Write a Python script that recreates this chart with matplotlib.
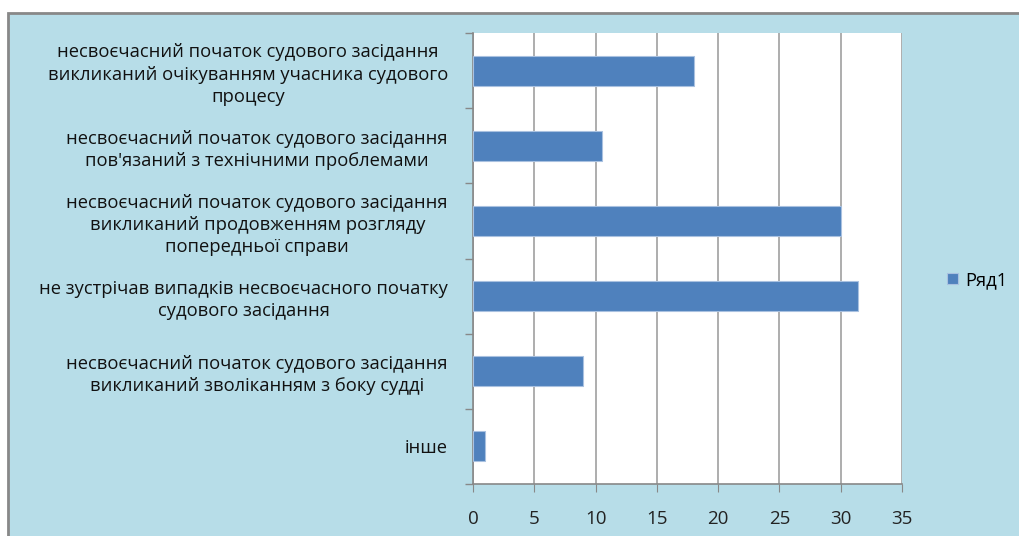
import numpy as np
import matplotlib.pyplot as plt
from matplotlib.patches import Rectangle

# categories from bottom to top
labels = [
    "інше",
    "несвоєчасний початок судового засідання\nвикликаний зволіканням з боку судді",
    "не зустрічав випадків несвоєчасного початку\nсудового засідання",
    "несвоєчасний початок судового засідання\nвикликаний продовженням розгляду\nпопередньої справи",
    "несвоєчасний початок судового засідання\nпов'язаний з технічними проблемами",
    "несвоєчасний початок судового засідання\nвикликаний очікуванням учасника судового\nпроцесу",
]
values = [1, 9, 31.4, 30, 10.5, 18]
xticks = [0, 5, 10, 15, 20, 25, 30, 35]
series_name = "Ряд1"

bg = '#b7dde8'
bar_col = '#4f81bd'

plt.rcParams['font.family'] = ['Open Sans', 'DejaVu Sans']

fig = plt.figure(figsize=(10.19, 5.36), dpi=100)
fig.patch.set_facecolor('white')
fig.patches.append(Rectangle((8/1019, -0.1), 1.2, 1.1 - 13/536, transform=fig.transFigure,
                             facecolor=bg, edgecolor='#888888', linewidth=2, zorder=-1))

ax = fig.add_axes([473/1019, 52/536, (902-473)/1019, (484-33)/536])
y = np.arange(len(labels))
ax.barh(y, values, height=0.4, color=bar_col, edgecolor='#a9c1e0', linewidth=0.8,
        label=series_name, zorder=3)

ax.set_xlim(0, 35)
ax.set_ylim(-0.5, len(labels) - 0.5)
ax.set_xticks(xticks)
ax.set_yticks(y)
ax.set_yticklabels(labels, fontsize=13.2, multialignment='center', linespacing=1.3, color='#111111')
ax.set_yticks(np.arange(-0.5, len(labels), 1), minor=True)
ax.tick_params(axis='y', which='major', length=0, pad=18)
ax.tick_params(axis='y', which='minor', length=6, color='#888888', width=1)
ax.tick_params(axis='x', length=6, color='#888888', labelsize=13.5, labelcolor='#222222', pad=13)
ax.grid(axis='x', color='#a0a0a0', linewidth=1.2, zorder=0)
ax.set_facecolor('white')
for s in ['top', 'right']:
    ax.spines[s].set_visible(False)
for s in ['left', 'bottom']:
    ax.spines[s].set_color('#888888')
    ax.spines[s].set_linewidth(1.2)

fig.legend(loc='center left', bbox_to_anchor=(930/1019, 1 - 280/536), frameon=False,
           fontsize=13.2, handlelength=0.6, handleheight=0.6, handletextpad=0.4)

plt.savefig('out.png', dpi=100, facecolor=fig.get_facecolor())
